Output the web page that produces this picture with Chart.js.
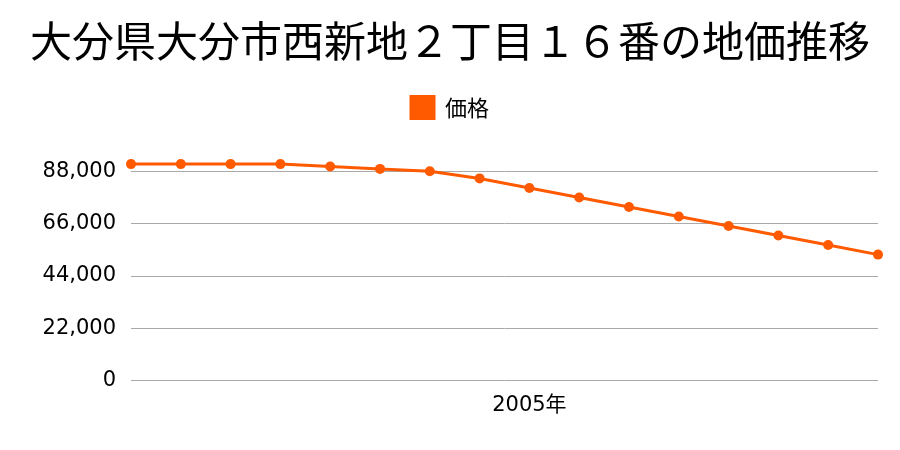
<!DOCTYPE html>
<html lang="ja">
<head>
    <meta charset="UTF-8">
    <title>地価推移</title>
    <script src="https://cdn.jsdelivr.net/npm/chart.js"></script>
    <style>
        html, body {
            margin: 0;
            padding: 0;
            background: #fff;
        }
        .chart-container {
            width: 900px;
            height: 450px;
        }
    </style>
</head>
<body>
    <div class="chart-container">
        <canvas id="priceChart"></canvas>
    </div>
    <script>
        // 年（2005年だけ目盛りに表示）
        var years = ['1997年', '1998年', '1999年', '2000年', '2001年', '2002年', '2003年', '2004年',
                     '2005年', '2006年', '2007年', '2008年', '2009年', '2010年', '2011年', '2012年'];
        var prices = [91000, 91000, 91000, 91000, 90000, 89000, 88000, 85000,
                      81000, 77000, 73000, 69000, 65000, 61000, 57000, 53000];
        var shownYears = ['2005年'];
        var yTicks = [0, 22000, 44000, 66000, 88000];

        var font = '"Noto Sans CJK JP", "Noto Sans", sans-serif';
        var numFont = '"DejaVu Sans", "Noto Sans CJK JP", sans-serif';
        var orange = '#ff5a00';

        var ctx = document.getElementById('priceChart').getContext('2d');
        new Chart(ctx, {
            type: 'line',
            data: {
                labels: years,
                datasets: [{
                    label: '価格',
                    data: prices,
                    borderColor: orange,
                    backgroundColor: orange,
                    borderWidth: 3,
                    pointRadius: 5,
                    pointHoverRadius: 5,
                    pointBackgroundColor: orange,
                    pointBorderWidth: 0,
                    tension: 0
                }]
            },
            options: {
                responsive: true,
                maintainAspectRatio: false,
                animation: false,
                layout: {
                    padding: { left: 22, right: 22, top: 8, bottom: 20 }
                },
                plugins: {
                    title: {
                        display: true,
                        text: '大分県大分市西新地２丁目１６番の地価推移',
                        color: '#000',
                        font: { family: font, size: 42, weight: 'normal' },
                        padding: { top: 8, bottom: 20 }
                    },
                    legend: {
                        labels: {
                            color: '#000',
                            boxWidth: 23,
                            boxHeight: 22,
                            padding: 10,
                            font: { family: font, size: 22 }
                        }
                    },
                    tooltip: { enabled: false }
                },
                scales: {
                    x: {
                        offset: false,
                        grid: { display: false, drawTicks: false },
                        border: { display: false },
                        ticks: {
                            color: '#000',
                            autoSkip: false,
                            maxRotation: 0,
                            padding: 12,
                            font: { family: numFont, size: 21 },
                            callback: function(value) {
                                var label = this.getLabelForValue(value);
                                return shownYears.indexOf(label) >= 0 ? label : '';
                            }
                        }
                    },
                    y: {
                        min: 0,
                        max: 106000,
                        grid: { color: '#aaaaaa', drawTicks: false },
                        border: { display: false },
                        afterBuildTicks: function(axis) {
                            axis.ticks = yTicks.map(function(v) { return { value: v }; });
                        },
                        afterFit: function(axis) {
                            axis.width = 109;
                        },
                        ticks: {
                            color: '#000',
                            padding: 15,
                            font: { family: numFont, size: 21 },
                            callback: function(value) {
                                return value.toLocaleString('en-US');
                            }
                        }
                    }
                }
            }
        });
    </script>
</body>
</html>
